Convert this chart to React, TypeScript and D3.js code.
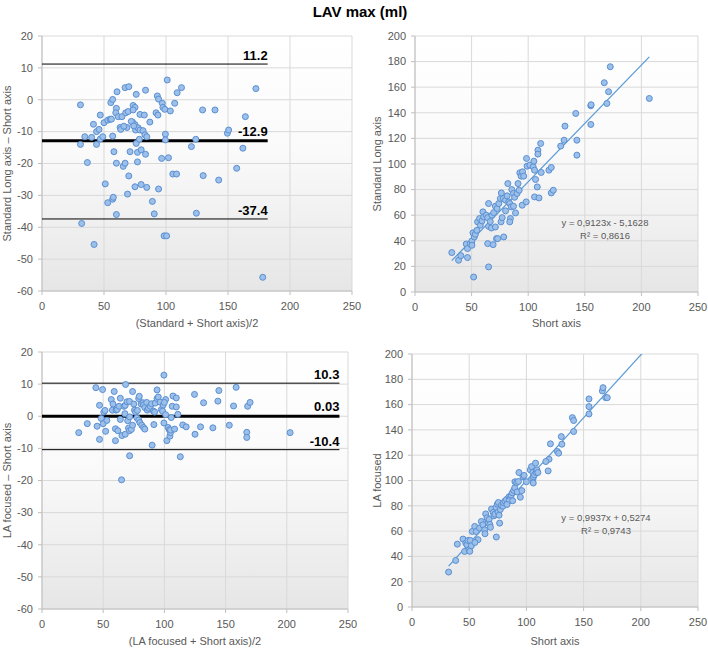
import React from 'react';
import * as d3 from 'd3';

type P = [number, number];

// Bland-Altman: Standard Long axis vs Short axis (mean, difference)
const baStdPoints: P[] = [
  [31,-1.6],[31,-14],[34.5,-11.6],[36.6,-19.7],[32,-38.8],[42,-45.4],[40,-11.8],[41.5,-7.7],[44,-14],[44,-10],
  [46,-9.3],[47,-4.8],[47,-12.3],[49,-11.6],[50,-7.2],[51,-26.4],[53,-32.3],[53,-6.4],[55,-6.1],[55.5,-0.9],
  [57,0.1],[56,-6.1],[57,-11.4],[58,-16.3],[57,-31.2],[57.5,-30.6],[60,-2.7],[59.5,-4.1],[60,-19.9],[60,-36],
  [60.5,2.5],[61.5,-5.3],[63,-8.7],[63.5,-9.3],[64.5,-5.3],[65.5,-20.9],[67,3.8],[67,-19.9],[67.5,-4.1],[68.5,-8.7],
  [69.5,-3.7],[70,4.1],[70,-23.9],[71,-16.3],[69,-29.6],[73,-7],[73.5,-1.8],[75,-2.4],[73.5,-3.2],[75,-27.3],
  [75.5,-9.5],[75,-7.8],[76,1.7],[76,-13.7],[77,-16.5],[77,-19.5],[77.5,-8.8],[78.5,-12.4],[79,-9.5],[79,-4.6],
  [80,-15.7],[80,-26.6],[81.5,-9.7],[82.5,-4.8],[83,-11],[83.5,3],[83.5,-17.1],[84.5,-11.6],[84.5,-27.5],[87,-7],
  [89,-31.9],[90.5,-35.8],[92,-4.1],[93,1.2],[93.5,-4.8],[94,0.2],[94,-28],[96.5,-18.4],[97,-1.1],[97.5,-2.4],
  [99,-3],[99.5,-10.8],[99.5,-12.6],[98.5,-42.7],[100.5,-42.7],[101,6.2],[102,-18.2],[103.5,-3.5],[105.5,-23.3],[107,-1.1],
  [108.5,-23.3],[109,2.2],[112.5,3.8],[120.5,-14.7],[124,-12.4],[124.5,-35.6],[129.5,-3.2],[130,-23.8],[139.5,-3.2],[142.5,-25.2],
  [149.5,-10.5],[150.5,-9.5],[157,-21.5],[162,-15.2],[164,-5.3],[172.5,3.5],[178,-55.7],[72,-6.8],[74,-8.2],[66,-8.3]
];

// Bland-Altman: LA focused vs Short axis (mean, difference)
const baLaPoints: P[] = [
  [30,-5.1],[37,-2.3],[44,8.9],[45,-3.1],[47,3.4],[47,-7.2],[49.5,8.3],[48.4,-0.7],[50,-2.3],[50.5,1.3],
  [51.5,1.8],[53,-1.3],[52,-4.7],[56.6,5.2],[58,3.8],[57.5,1.9],[60.5,1.9],[59,7.7],[60,-3.9],[62,-4.5],
  [60,-7.6],[61.5,2.1],[63,3.1],[64,5.6],[64,-1],[65,-19.8],[65.3,-6],[68,-5.6],[67,3.1],[68,3.4],
  [67.7,0.8],[68.3,9.9],[69.4,4.5],[71.5,4.6],[70,-1.4],[71.6,-0.2],[70.7,-3.7],[71.5,-4.5],[71.6,-12.3],[73,-4.1],
  [74,-2.8],[74,7.7],[75,3.8],[75.6,1.9],[76.5,1.3],[78,1.8],[79,5.5],[79.5,6.2],[77.5,-0.5],[79,-1.2],
  [80,-2],[81.5,-2.8],[83,-3.5],[84,-4],[81,3.8],[82.5,4.2],[83,3.5],[84,2.7],[85.5,4.3],[86,1.9],
  [87,2.5],[88.5,3.1],[89.5,3.9],[91,1.6],[92,1.3],[92.5,4.1],[94,5.5],[94,8.2],[95,6],[96.5,4.4],
  [97.5,2.1],[98.5,1.6],[99,3.5],[90,-9],[91.4,-2.6],[99.6,12.8],[99.6,-2.1],[101,0.5],[102,-7.6],[103,-3.5],
  [104,-4.2],[104.5,-6.2],[105,-5.1],[105,-4.3],[105.6,-0.4],[106.4,3.1],[107,6.3],[109.7,5.7],[108.3,-4],[109.7,2.9],
  [111,0.6],[101,5.2],[100,4.3],[113,-12.6],[115,-2.7],[117.8,-3.3],[124.6,6.8],[125,-5.6],[129.5,-3.3],[132,4.2],
  [139.6,-3.6],[143.7,4.7],[144.5,8],[153,-2.8],[156.5,3.2],[158.6,9],[167.3,-5],[167.3,-6.6],[168,3.1],[170,4.3],
  [202.7,-5.1]
];

// Scatter: Short axis (x) vs Standard Long axis (y)
const scStdPoints: P[] = [
  [32.5,30.8],[38.5,24.8],[40.5,28.4],[46.4,26.9],[45.3,37.5],[46.4,33.9],[48.8,37.8],[50.3,39.9],[51.2,46.2],[52.4,43],
  [53.3,45.1],[51.8,11.7],[50.3,36.5],[54.7,48.2],[55.3,54.8],[57,57.4],[57.7,52.2],[59.2,55.5],[60,62.6],[60.7,58.7],
  [63,60],[64.2,58.1],[65,51.3],[64.2,37.8],[65,19.6],[65,69.1],[66.5,55],[68,60],[69.5,62],[67.5,50],
  [69,37],[71,50.8],[72,41.7],[73,41.7],[71,67],[72.5,65.2],[74,69.1],[75.4,73],[76.3,77.4],[76,54.8],
  [77,58.1],[78.4,43],[80,63.4],[78,73],[80,71.7],[81.4,75.1],[82,84.7],[82.8,70.4],[83.7,69.1],[85,66.5],
  [84.3,57.4],[83.7,54.8],[85.5,80],[87,77],[88,74],[87,67],[88.8,61.8],[90.2,77],[91,84.7],[92,79.5],
  [92.6,93.1],[93.8,90.5],[95,93.9],[96,90.5],[94.7,67.8],[98.2,70.4],[98.5,104.3],[99,98.3],[101.5,99.1],[104.4,97.8],
  [105,102.2],[105.6,95.2],[106.5,87.9],[105.6,74.3],[109.5,73.5],[108,82.1],[108.6,110.8],[108.6,107.7],[111,116],[111.5,93.4],
  [118.3,95.2],[120.4,97.3],[120.4,77.4],[122.2,79.5],[128.7,114],[131.7,118.6],[132.5,129.6],[142,139.5],[143,118.6],[143,106.9],
  [155.3,145.5],[155.6,146.3],[155.3,130.9],[167.2,163.5],[169.5,147.3],[171,156.5],[172.5,176],[207,151.2]
];

// Scatter: Short axis (x) vs LA focused (y)
const scLaPoints: P[] = [
  [32,27.6],[38.2,36.8],[39.6,49.7],[44.6,53.7],[46,43.9],[47,50.5],[48,49.2],[49,52.6],[49.8,45.3],[51,52.6],
  [51.9,48.4],[50.5,44],[52.7,59.7],[54.8,63.7],[56.2,59.7],[57.7,53.2],[55,51],[59,62.4],[60.6,67.6],[62,65],
  [63.5,61],[63.8,57.9],[64.4,73.6],[65.6,70.5],[66.5,66.6],[67.4,69.2],[68,65.3],[68.6,63],[69.5,77.4],[71,74.7],
  [71.6,72.1],[72.5,73.4],[73.5,78.7],[74.6,81.3],[75.5,82.6],[73.7,55.3],[76.6,66.3],[75.2,75],[76.1,72.6],[77.2,77.1],
  [78,80.3],[79.5,79.7],[80,82.4],[81.2,83.7],[82.6,85],[84.8,87.1],[86,86.3],[86.8,88.4],[87.7,90.3],[88.9,92.1],
  [89.8,94.2],[90,99],[91.6,98.4],[93,99.2],[93.5,106.3],[94.7,86.8],[97,103],[98,104],[100,99],[103.4,108.4],
  [104.5,111],[105.6,106.3],[105.6,101],[106.2,103],[107.1,104.5],[108,113.7],[108.6,106.3],[109.2,108.4],[110,106.3],[119,107.6],
  [119.8,116.8],[121,129],[127,123],[128.2,121.6],[130.5,134.7],[131,128.7],[140.2,149.7],[141.3,147.4],[141.3,138.7],[154.7,164.5],
  [154.7,158.4],[154.7,152.6],[166.4,170.8],[167,173.4],[169.3,165.5],[170.7,165.5],[85,84],[83,81],[88,84],[92,91],
  [96,92],[106,98],[117,115]
];

const baXTicks = [0, 50, 100, 150, 200, 250];
const baYTicks = [20, 10, 0, -10, -20, -30, -40, -50, -60];
const scXTicks = [0, 50, 100, 150, 200, 250];
const scYTicks = [0, 20, 40, 60, 80, 100, 120, 140, 160, 180, 200];

const baStdLimits = [11.2, -12.9, -37.4];
const baStdLimitLabels = ['11.2', '-12.9', '-37.4'];
const baStdLimitExtent = [0, 182];
const baLaLimits = [10.3, 0.03, -10.4];
const baLaLimitLabels = ['10.3', '0.03', '-10.4'];
const baLaLimitExtent = [0, 243];

const stdFit = [0.9123, -5.1628];
const stdFitRange = [32.5, 207];
const stdEq = ['y = 0,9123x - 5,1628', 'R² = 0,8616'];
const laFit = [0.9937, 0.5274];
const laFitRange = [32, 201];
const laEq = ['y = 0,9937x + 0,5274', 'R² = 0,9743'];

const FONT = "'Liberation Sans', Arial, sans-serif";
const GRAY = '#595959';

type Box = { l: number; t: number; r: number; b: number };
type Scale = d3.ScaleLinear<number, number>;

function Panel(props: {
  id: string; box: Box; xDomain: number[]; yDomain: number[];
  xTicks: number[]; yTicks: number[]; points: P[];
  xTitle: string; yTitle: string; xTitleY: number; yTitleX: number;
  extra?: (x: Scale, y: Scale) => React.ReactNode;
}) {
  const { id, box, points } = props;
  const x = d3.scaleLinear().domain(props.xDomain).range([box.l, box.r]);
  const y = d3.scaleLinear().domain(props.yDomain).range([box.b, box.t]);
  return (
    <g>
      <defs>
        <linearGradient id={`bg-${id}`} x1="0" y1="0" x2="0" y2="1">
          <stop offset="0" stopColor="#ffffff" />
          <stop offset="0.45" stopColor="#fafafa" />
          <stop offset="1" stopColor="#e6e6e6" />
        </linearGradient>
        <clipPath id={`clip-${id}`}>
          <rect x={box.l} y={box.t} width={box.r - box.l} height={box.b - box.t} />
        </clipPath>
      </defs>
      <rect x={box.l} y={box.t} width={box.r - box.l} height={box.b - box.t} fill={`url(#bg-${id})`} />
      {props.xTicks.map((t) => (
        <line key={`gx${t}`} x1={x(t)} x2={x(t)} y1={box.t} y2={box.b} stroke="#d9d9d9" strokeWidth={1} />
      ))}
      {props.yTicks.map((t) => (
        <line key={`gy${t}`} x1={box.l} x2={box.r} y1={y(t)} y2={y(t)} stroke="#d9d9d9" strokeWidth={1} />
      ))}
      <line x1={box.l} x2={box.l} y1={box.t} y2={box.b} stroke="#bfbfbf" />
      <line x1={box.l} x2={box.r} y1={box.b} y2={box.b} stroke="#bfbfbf" />
      {props.yTicks.map((t) => (
        <g key={`ty${t}`}>
          <line x1={box.l - 4} x2={box.l} y1={y(t)} y2={y(t)} stroke="#bfbfbf" />
          <text x={box.l - 9} y={y(t)} dy="0.35em" textAnchor="end" fontSize={11} fill={GRAY} fontFamily={FONT}>{t}</text>
        </g>
      ))}
      {props.xTicks.map((t) => (
        <g key={`tx${t}`}>
          <line x1={x(t)} x2={x(t)} y1={box.b} y2={box.b + 4} stroke="#bfbfbf" />
          <text x={x(t)} y={box.b + 15} dy="0.35em" textAnchor="middle" fontSize={11} fill={GRAY} fontFamily={FONT}>{t}</text>
        </g>
      ))}
      <text x={(box.l + box.r) / 2} y={props.xTitleY} dy="0.35em" textAnchor="middle" fontSize={11} fill={GRAY} fontFamily={FONT}>{props.xTitle}</text>
      <text transform={`translate(${props.yTitleX},${(box.t + box.b) / 2}) rotate(-90)`} dy="0.35em" textAnchor="middle" fontSize={11} fill={GRAY} fontFamily={FONT}>{props.yTitle}</text>
      <g clipPath={`url(#clip-${id})`}>
        {props.extra ? props.extra(x, y) : null}
        {points.map((p, i) => (
          <circle key={i} cx={x(p[0])} cy={y(p[1])} r={3} fill="#9cc0e9" stroke="#5a8fd2" strokeWidth={1} />
        ))}
      </g>
    </g>
  );
}

function limitLines(values: number[], labels: string[], extent: number[]) {
  return (x: Scale, y: Scale) => (
    <g>
      {values.map((v, i) => (
        <g key={i}>
          <line x1={x(extent[0])} x2={x(extent[1])} y1={y(v)} y2={y(v)} stroke="#000" strokeWidth={i === 1 ? 3 : 1} />
          <text x={x(extent[1])} y={y(v) - (i === 1 ? 5 : 4)} textAnchor="end" fontSize={13} fontWeight="bold" fill="#000" fontFamily={FONT}>{labels[i]}</text>
        </g>
      ))}
    </g>
  );
}

function fitLine(fit: number[], range: number[], eq: string[], eqX: number, eqY: number) {
  return (x: Scale, y: Scale) => {
    const pts: P[] = range.map((v) => [v, fit[0] * v + fit[1]]);
    const line = d3.line<P>().x((d) => x(d[0])).y((d) => y(d[1]));
    return (
      <g>
        <path d={line(pts) || ''} fill="none" stroke="#5b9bd5" strokeWidth={1.3} />
        <text x={eqX} y={eqY} textAnchor="middle" fontSize={9.5} fill={GRAY} fontFamily={FONT}>{eq[0]}</text>
        <text x={eqX} y={eqY + 13} textAnchor="middle" fontSize={9.5} fill={GRAY} fontFamily={FONT}>{eq[1]}</text>
      </g>
    );
  };
}

export default function App() {
  return (
    <svg width={708} height={648} style={{ position: 'absolute', left: 0, top: 0, display: 'block', background: '#fff' }}>
      <rect x={0} y={0} width={708} height={648} fill="#fff" />
      <text x={360} y={17} textAnchor="middle" fontSize={15} fontWeight="bold" fill="#000" fontFamily={FONT}>LAV max (ml)</text>
      <Panel id="tl" box={{ l: 42, t: 36, r: 352, b: 291 }} xDomain={[0, 250]} yDomain={[-60, 20]}
        xTicks={baXTicks} yTicks={baYTicks} points={baStdPoints}
        xTitle="(Standard + Short axis)/2" yTitle="Standard Long axis – Short axis" xTitleY={323} yTitleX={7}
        extra={limitLines(baStdLimits, baStdLimitLabels, baStdLimitExtent)} />
      <Panel id="bl" box={{ l: 42, t: 352, r: 348, b: 609 }} xDomain={[0, 250]} yDomain={[-60, 20]}
        xTicks={baXTicks} yTicks={baYTicks} points={baLaPoints}
        xTitle="(LA focused + Short axis)/2" yTitle="LA focused – Short axis" xTitleY={641} yTitleX={7}
        extra={limitLines(baLaLimits, baLaLimitLabels, baLaLimitExtent)} />
      <Panel id="tr" box={{ l: 415, t: 36, r: 698, b: 292 }} xDomain={[0, 250]} yDomain={[0, 200]}
        xTicks={scXTicks} yTicks={scYTicks} points={scStdPoints}
        xTitle="Short axis" yTitle="Standard Long axis" xTitleY={323} yTitleX={377}
        extra={fitLine(stdFit, stdFitRange, stdEq, 605, 226)} />
      <Panel id="br" box={{ l: 412, t: 354, r: 698, b: 607 }} xDomain={[0, 250]} yDomain={[0, 200]}
        xTicks={scXTicks} yTicks={scYTicks} points={scLaPoints}
        xTitle="Short axis" yTitle="LA focused" xTitleY={641} yTitleX={377}
        extra={fitLine(laFit, laFitRange, laEq, 606, 521)} />
    </svg>
  );
}
